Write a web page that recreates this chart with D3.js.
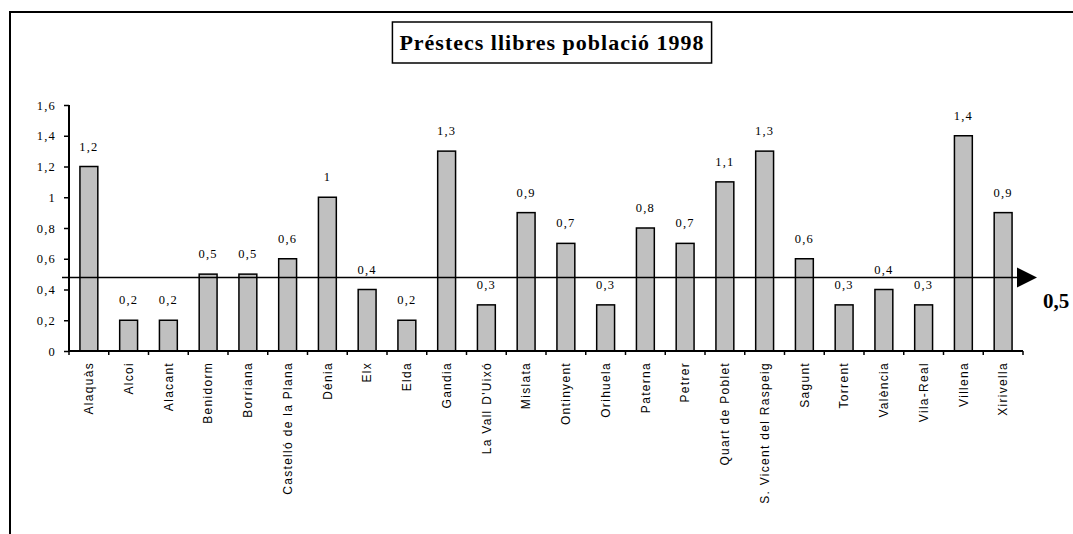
<!DOCTYPE html>
<html><head><meta charset="utf-8">
<script src="https://cdn.jsdelivr.net/npm/d3@7"></script>
<style>body{margin:0;background:#fff}svg{display:block}</style>
</head><body>
<script>
const categories = ["Alaquàs","Alcoi","Alacant","Benidorm","Borriana","Castelló de la Plana","Dénia","Elx","Elda","Gandia","La Vall D'Uixó","Mislata","Ontinyent","Orihuela","Paterna","Petrer","Quart de Poblet","S. Vicent del Raspeig","Sagunt","Torrent","València","Vila-Real","Villena","Xirivella"];
const values = [1.2,0.2,0.2,0.5,0.5,0.6,1,0.4,0.2,1.3,0.3,0.9,0.7,0.3,0.8,0.7,1.1,1.3,0.6,0.3,0.4,0.3,1.4,0.9];
const yTicks = [0,0.2,0.4,0.6,0.8,1,1.2,1.4,1.6];
const refValue = 0.48;
const refLabel = "0,5";
const title = "Préstecs llibres població 1998";

const W=1073,H=534;
const svg=d3.select("body").append("svg").attr("width",W).attr("height",H);
const fmt=v=>String(v).replace(".",",");

// outer frame
svg.append("path").attr("d",`M10,${H+2}V12H${W+2}`).attr("fill","none").attr("stroke","#000").attr("stroke-width",2);

const x=d3.scaleBand().domain(categories).range([69,1023]).paddingInner(0.55).paddingOuter(0.275);
const y=d3.scaleLinear().domain([0,1.6]).range([351,105]);

// bars
svg.append("g").selectAll("rect").data(values).join("rect")
 .attr("x",(d,i)=>x(categories[i])).attr("y",d=>y(d))
 .attr("width",x.bandwidth()).attr("height",d=>y(0)-y(d))
 .attr("fill","#c0c0c0").attr("stroke","#000").attr("stroke-width",1.5);

// value labels
svg.append("g").selectAll("text").data(values).join("text")
 .attr("x",(d,i)=>x(categories[i])+x.bandwidth()/2).attr("y",d=>y(d)-16)
 .attr("text-anchor","middle").attr("font-family","Liberation Serif").attr("font-size",12.5)
 .attr("letter-spacing",1.2).text(d=>fmt(d));

// y axis
const ya=svg.append("g").attr("transform","translate(69,0)")
 .call(d3.axisLeft(y).tickValues(yTicks).tickSize(5).tickPadding(8).tickFormat(fmt));
ya.select(".domain").attr("stroke-width",2).attr("d","M0,105V351");
ya.selectAll(".tick line").attr("stroke-width",1.5);
ya.selectAll("text").attr("font-family","Liberation Serif").attr("font-size",12.5).attr("letter-spacing",1.2).attr("fill","#000");

// x axis
const xa=svg.append("g").attr("transform","translate(0,351)")
 .call(d3.axisBottom(x).tickSize(0).tickPadding(0));
xa.select(".domain").attr("stroke-width",2).attr("d","M69,0H1023");
const step=x.step();
xa.selectAll(".tick").each(function(d,i){
  d3.select(this).select("line").attr("x1",-step/2).attr("x2",-step/2).attr("y2",4).attr("stroke-width",1.5);
});
xa.append("line").attr("x1",1023).attr("x2",1023).attr("y2",4).attr("stroke","#000").attr("stroke-width",1.5);
xa.selectAll(".tick text").attr("transform","rotate(-90)").attr("x",-11).attr("y",0).attr("dy","0.35em")
 .attr("text-anchor","end").attr("font-family","Liberation Sans").attr("font-size",12).attr("letter-spacing",1.3).attr("fill","#000");

// reference line with arrow
const ry=Math.round(y(refValue))+0.5;
svg.append("line").attr("x1",62).attr("x2",1020).attr("y1",ry).attr("y2",ry).attr("stroke","#000").attr("stroke-width",1.5);
svg.append("path").attr("d",`M1017,${ry-10}L1037,${ry}L1017,${ry+10}Z`).attr("fill","#000");
svg.append("text").attr("x",1043).attr("y",ry+30).attr("font-family","Liberation Serif").attr("font-weight","bold").attr("font-size",21).text(refLabel);

// title box
const tg=svg.append("g");
const box=tg.append("rect");
const tt=tg.append("text").attr("x",552).attr("y",50).attr("text-anchor","middle")
 .attr("font-family","Liberation Serif").attr("font-weight","bold").attr("font-size",22).attr("letter-spacing",1).text(title);
const bb=tt.node().getBBox();
box.attr("x",bb.x-7).attr("y",22).attr("width",bb.width+14).attr("height",41)
 .attr("fill","#fff").attr("stroke","#000").attr("stroke-width",1.5);
</script>
</body></html>
